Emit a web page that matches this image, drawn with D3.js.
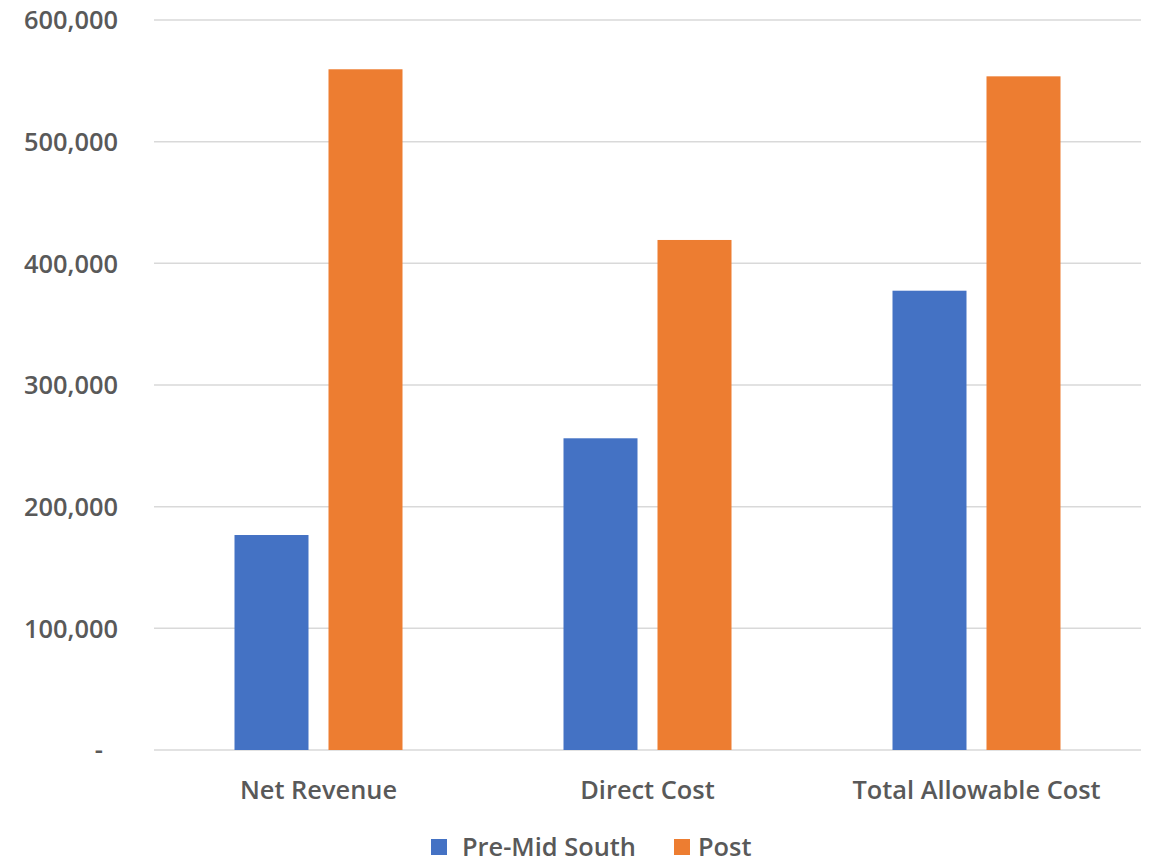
<!DOCTYPE html>
<html><head><meta charset="utf-8">
<script src="https://cdn.jsdelivr.net/npm/d3@7"></script>
<style>body{margin:0;background:#fff}svg{display:block}text{font-family:"Open Sans","Segoe UI",sans-serif;font-weight:600;fill:#595959}</style>
</head><body><svg id="c" width="1153" height="860"></svg>
<script>
const categories = ["Net Revenue", "Direct Cost", "Total Allowable Cost"];
const seriesNames = ["Pre-Mid South", "Post"];
const preValues = [176700, 256200, 377500];
const postValues = [559500, 419200, 553700];
const yTicks = [0, 100000, 200000, 300000, 400000, 500000, 600000];
const colors = ["#4472C4", "#ED7D31"];

(function(){
const svg = d3.select("#c");
const FS = 25.4;
const pLeft = 154, pRight = 1141, pTop = 20, pBottom = 750;
const x0 = d3.scaleBand().domain(categories).range([pLeft, pRight]).paddingInner(0).paddingOuter(0);
const x1 = d3.scaleBand().domain(seriesNames).range([x0.bandwidth()/2 - 84, x0.bandwidth()/2 + 84]).paddingInner(20/94).paddingOuter(0);
const y = d3.scaleLinear().domain([0, 600000]).range([pBottom, pTop]);

svg.append("g").selectAll("line").data(yTicks).join("line")
  .attr("x1", pLeft).attr("x2", pRight)
  .attr("y1", d => y(d)).attr("y2", d => y(d))
  .attr("stroke", "#d9d9d9").attr("stroke-width", 1.5);

const fmt = d3.format(",");
const yAxis = d3.axisLeft(y).tickValues(yTicks).tickSize(0).tickPadding(0)
  .tickFormat(d => d === 0 ? "-" : fmt(d));
const yg = svg.append("g").attr("transform", `translate(118,0)`).call(yAxis);
yg.select(".domain").remove();
yg.selectAll("text").attr("font-size", FS).attr("fill", "#595959")
  .attr("font-family", "'Open Sans',sans-serif").attr("font-weight", 600)
  .attr("dy", "0.35em")
  .attr("dx", d => d === 0 ? -15 : 0);

const data = categories.map((c, i) => ({c, vals: [preValues[i], postValues[i]]}));
const groups = svg.append("g").selectAll("g").data(data).join("g")
  .attr("transform", d => `translate(${x0(d.c)},0)`);
groups.selectAll("rect").data(d => d.vals.map((v, j) => ({s: seriesNames[j], v, j}))).join("rect")
  .attr("x", d => x1(d.s)).attr("width", x1.bandwidth())
  .attr("y", d => y(d.v)).attr("height", d => y(0) - y(d.v))
  .attr("fill", d => colors[d.j]);

const xAxis = d3.axisBottom(x0).tickSize(0).tickPadding(0);
const xg = svg.append("g").attr("transform", `translate(0,${pBottom})`).call(xAxis);
xg.select(".domain").remove();
xg.selectAll("text").attr("font-size", FS).attr("fill", "#595959")
  .attr("font-family", "'Open Sans',sans-serif").attr("font-weight", 600)
  .attr("y", 40).attr("dy", "0.35em");

const legendX = [431, 674];
const textOff = [31, 24];
const lg = svg.append("g").selectAll("g").data(seriesNames).join("g")
  .attr("transform", (d, i) => `translate(${legendX[i]},839)`);
lg.append("rect").attr("width", 16).attr("height", 16).attr("fill", (d, i) => colors[i]);
lg.append("text").attr("x", (d, i) => textOff[i]).attr("y", 8).attr("dy", "0.35em")
  .attr("font-size", FS).text(d => d);
})();
</script></body></html>
